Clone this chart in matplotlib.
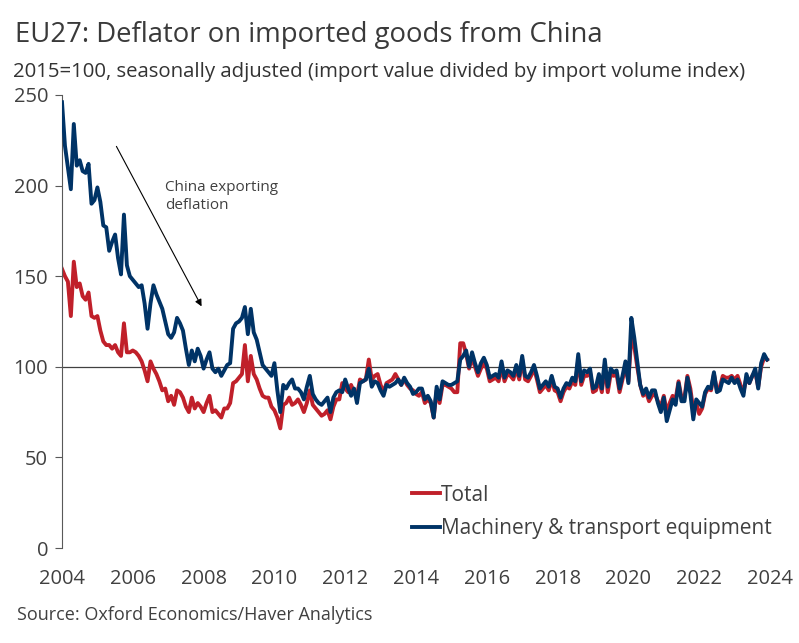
import numpy as np
import matplotlib
matplotlib.use("Agg")
from matplotlib import pyplot as plt

plt.rcParams['font.family'] = ['Open Sans', 'DejaVu Sans']

# monthly, Jan 2004 - Dec 2023, 2015=100
total = [
    154, 150, 147, 128, 158, 144, 146, 139, 137, 141, 128, 127,
    128, 120, 114, 112, 112, 110, 112, 108, 106, 124, 108, 108,
    109, 108, 106, 103, 98, 92, 103, 99, 96, 92, 87, 88,
    81, 84, 79, 87, 86, 83, 78, 75, 83, 77, 80, 78,
    75, 80, 84, 75, 76, 74, 72, 77, 77, 80, 91, 92,
    94, 96, 112, 92, 106, 96, 93, 88, 84, 83, 83, 78,
    76, 72, 66, 79, 80, 83, 79, 80, 82, 79, 75, 80,
    87, 79, 77, 75, 73, 74, 76, 71, 78, 82, 82, 91,
    88, 86, 90, 86, 84, 93, 92, 93, 104, 93, 95, 96,
    90, 86, 91, 92, 93, 96, 93, 90, 93, 90, 88, 87,
    85, 84, 86, 80, 82, 80, 72, 87, 80, 90, 90, 89,
    88, 86, 86, 113, 113, 107, 99, 105, 100, 95, 99, 102,
    99, 92, 93, 94, 92, 100, 92, 96, 95, 93, 99, 93,
    104, 93, 92, 95, 99, 93, 86, 88, 90, 87, 93, 87,
    86, 81, 86, 89, 88, 92, 90, 104, 90, 95, 95, 97,
    86, 87, 93, 86, 101, 86, 96, 95, 96, 86, 93, 100,
    92, 117, 111, 100, 90, 84, 86, 81, 84, 85, 81, 78,
    84, 75, 80, 84, 82, 92, 83, 83, 95, 88, 76, 80,
    74, 77, 85, 88, 87, 96, 87, 89, 95, 94, 94, 95,
    93, 95, 90, 86, 94, 91, 95, 97, 89, 100, 105, 104,
]
machinery = [
    246, 222, 210, 198, 234, 211, 214, 208, 207, 212, 190, 192,
    199, 191, 178, 177, 164, 169, 173, 160, 151, 184, 156, 150,
    148, 146, 144, 145, 135, 121, 135, 145, 140, 136, 132, 125,
    118, 116, 119, 127, 124, 120, 110, 101, 109, 103, 110, 106,
    99, 104, 108, 99, 97, 99, 95, 98, 101, 102, 121, 124,
    125, 127, 133, 118, 132, 119, 115, 108, 101, 99, 97, 95,
    102, 87, 75, 90, 88, 91, 93, 88, 88, 86, 82, 89,
    95, 85, 82, 80, 79, 81, 83, 75, 83, 86, 87, 86,
    93, 88, 84, 88, 80, 91, 92, 93, 99, 89, 92, 91,
    87, 84, 90, 89, 90, 91, 93, 90, 94, 91, 89, 85,
    86, 88, 88, 82, 84, 81, 72, 89, 82, 92, 91, 90,
    90, 91, 92, 104, 106, 109, 100, 108, 102, 97, 102, 105,
    101, 94, 95, 96, 94, 103, 94, 98, 97, 95, 101, 95,
    106, 95, 94, 97, 101, 95, 88, 90, 92, 89, 95, 89,
    88, 83, 88, 91, 90, 94, 92, 107, 92, 98, 97, 99,
    88, 89, 96, 88, 104, 89, 99, 97, 98, 88, 95, 103,
    91, 127, 116, 103, 90, 85, 88, 83, 87, 87, 80, 75,
    83, 70, 76, 82, 79, 91, 81, 81, 94, 85, 71, 82,
    80, 78, 86, 89, 88, 97, 86, 87, 93, 92, 91, 94,
    91, 93, 88, 84, 96, 91, 95, 99, 88, 102, 107, 104,
]
dates = 2004 + np.arange(len(total)) / 12.0
years = list(range(2004, 2025, 2))
yticks = [0, 50, 100, 150, 200, 250]

red = '#c0202a'
navy = '#003366'
txt = '#404040'

fig = plt.figure(figsize=(7.99, 6.43), dpi=100)
ax = fig.add_axes([62/799, 95/643, 708/799, 453/643])

ax.axhline(100, color='#404040', lw=0.9, zorder=1)
ax.plot(dates, total, color=red, lw=2.8, label='Total', zorder=2)
ax.plot(dates, machinery, color=navy, lw=2.8, label='Machinery & transport equipment', zorder=3)

ax.set_xlim(2004, 2024)
ax.set_ylim(0, 250)
ax.set_xticks(years)
ax.set_yticks(yticks)
for s in ['top', 'right', 'bottom']:
    ax.spines[s].set_visible(False)
ax.spines['left'].set_color('#595959')
ax.tick_params(axis='x', length=0, pad=15, labelsize=14.5, labelcolor=txt)
ax.tick_params(axis='y', length=5, color='#595959', pad=5, labelsize=14.5, labelcolor=txt)

# annotation
ax.annotate('', xy=(2007.98, 132), xytext=(2005.5, 223),
            arrowprops=dict(arrowstyle='-|>', color='black', lw=0.8, mutation_scale=10))
ax.text(2006.9, 203, 'China exporting\ndeflation', fontsize=11, color=txt,
        va='top', ha='left', linespacing=1.25)

leg = ax.legend(loc='upper left', bbox_to_anchor=(0.495, 0.14), frameon=False,
                fontsize=15, handlelength=1.3, handletextpad=0.05,
                labelspacing=0.62, borderpad=0, borderaxespad=0)
for t in leg.get_texts():
    t.set_color(txt)

fig.text(15/799, 1 - 35/643, 'EU27: Deflator on imported goods from China',
         fontsize=19.8, color='#3a3a3a', va='center', ha='left')
fig.text(13/799, 1 - 72/643, '2015=100, seasonally adjusted (import value divided by import volume index)',
         fontsize=14.7, color='#333333', va='center', ha='left')
fig.text(17/799, 1 - 615/643, 'Source: Oxford Economics/Haver Analytics',
         fontsize=13, color=txt, va='center', ha='left')

fig.savefig('out.png', dpi=100)
